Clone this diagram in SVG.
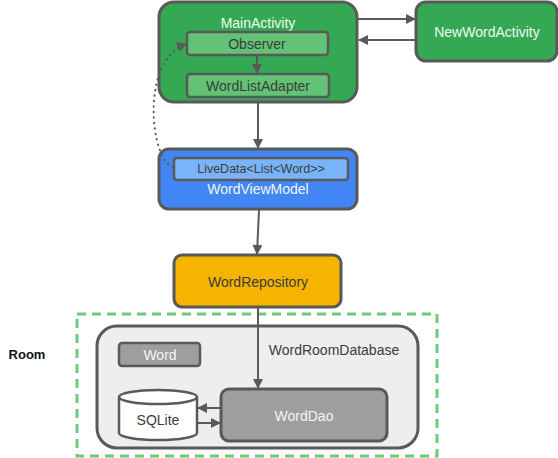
<svg xmlns="http://www.w3.org/2000/svg" width="558" height="458" viewBox="0 0 558 458">
<style>
text{font-family:"Liberation Sans",Arial,sans-serif;font-size:14px;text-anchor:middle;dominant-baseline:central}
.box{stroke:#595959;stroke-width:3}
.inner{stroke:#595959;stroke-width:2.5}
.lt{fill:#f1f8f1}
.dk{fill:#3c3c3c}
.conn{stroke:#595959;stroke-width:2;fill:none}
</style>
<defs>
<marker id="ah" viewBox="0 0 10 10" refX="10" refY="5" markerWidth="5.5" markerHeight="5.5" orient="auto" markerUnits="userSpaceOnUse">
<path d="M0,0L10,5L0,10z" fill="#595959"/>
</marker>
<marker id="a" viewBox="0 0 10 10" refX="9" refY="5" markerWidth="11" markerHeight="10" orient="auto" markerUnits="userSpaceOnUse">
<path d="M0,0L10,5L0,10z" fill="#595959"/>
</marker>
</defs>
<g id="room-frame">
<rect x="77" y="314" width="360" height="142" fill="none" stroke="#6acb7b" stroke-width="3" stroke-dasharray="9,6"/>
<text x="27" y="354" style="font-weight:bold;font-size:13px" fill="#111">Room</text>
</g>
<g id="WordRoomDatabase">
<rect class="box" x="97" y="326" width="321" height="122" rx="20" fill="#eeeeee"/>
<text x="334" y="350" class="dk">WordRoomDatabase</text>
</g>
<g id="MainActivity">
<rect class="box" x="159" y="2" width="198" height="100" rx="15" fill="#34a853"/>
<text x="258" y="23" class="lt">MainActivity</text>
</g>
<g id="Observer">
<rect class="inner" x="187" y="32" width="141" height="23" rx="3" fill="#62c275"/>
<text x="257" y="44" class="dk">Observer</text>
</g>
<g id="WordListAdapter">
<rect class="inner" x="187" y="74" width="142" height="23" rx="3" fill="#62c275"/>
<text x="258" y="86" class="dk">WordListAdapter</text>
</g>
<g id="NewWordActivity">
<rect class="box" x="416" y="2" width="141" height="59" rx="10" fill="#34a853"/>
<text x="487" y="32" class="lt">NewWordActivity</text>
</g>
<g id="WordViewModel">
<rect class="box" x="159" y="149" width="198" height="60" rx="10" fill="#4285f4"/>
<text x="258" y="189" class="lt">WordViewModel</text>
</g>
<g id="LiveData">
<rect class="inner" x="174" y="158" width="174" height="22" rx="3" fill="#79b4fb"/>
<text x="261" y="169" class="dk" style="font-size:12.5px">LiveData&lt;List&lt;Word&gt;&gt;</text>
</g>
<g id="WordRepository">
<rect class="box" x="174" y="255" width="167" height="52" rx="8" fill="#f4b400"/>
<text x="258" y="282" class="dk">WordRepository</text>
</g>
<g id="Word">
<rect class="inner" x="119" y="343" width="81" height="23" rx="3" fill="#9e9e9e"/>
<text x="160" y="355" class="lt">Word</text>
</g>
<g id="SQLite">
<path class="inner" d="M119,397 L119,433 A39,7 0 0 0 197,433 L197,397 A39,7 0 0 0 119,397 Z" fill="#ffffff"/>
<path class="inner" d="M119,397 A39,7 0 0 0 197,397" fill="none"/>
<text x="158" y="420" class="dk">SQLite</text>
</g>
<g id="WordDao">
<rect class="box" x="221" y="389" width="166" height="52" rx="8" fill="#9e9e9e"/>
<text x="304" y="416" class="lt">WordDao</text>
</g>
<g id="connectors">
<line class="conn" x1="257" y1="56" x2="257" y2="73" marker-end="url(#a)"/>
<line class="conn" x1="258" y1="103" x2="258" y2="148" marker-end="url(#a)"/>
<line class="conn" x1="358" y1="19" x2="415" y2="19" marker-end="url(#a)"/>
<line class="conn" x1="415" y1="40" x2="359" y2="40" marker-end="url(#a)"/>
<line class="conn" x1="259" y1="210" x2="257" y2="254" marker-end="url(#a)"/>
<line class="conn" x1="258" y1="308" x2="258" y2="388" marker-end="url(#a)"/>
<line class="conn" x1="220" y1="408" x2="198" y2="408" marker-end="url(#a)"/>
<line class="conn" x1="198" y1="423" x2="220" y2="423" marker-end="url(#a)"/>
<path class="conn" d="M173,167 C150,160 140,60 186,44" stroke-dasharray="0.5,5" stroke-linecap="round" marker-end="url(#a)"/>
</g>
</svg>
